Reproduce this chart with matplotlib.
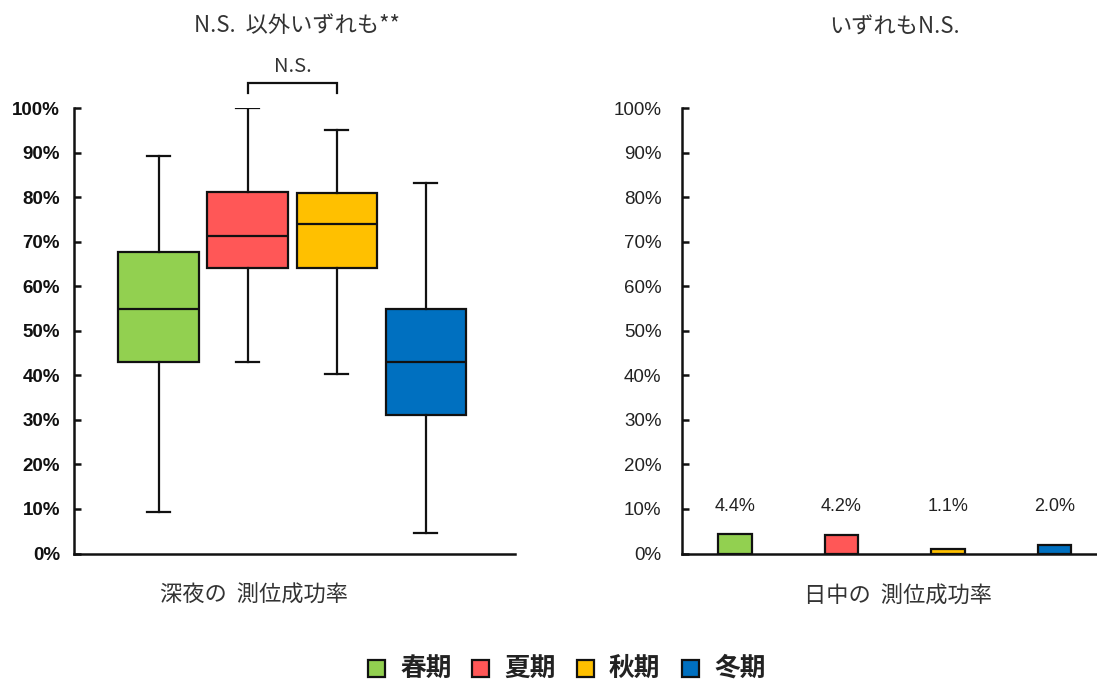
import matplotlib
matplotlib.use("Agg")
import matplotlib.pyplot as plt
from matplotlib.patches import Rectangle

# ---- data ----
seasons = ["春期", "夏期", "秋期", "冬期"]
season_colors = ["#92D050", "#FF5757", "#FFC000", "#0070C0"]

# late-night positioning success rate (%), box-plot statistics
night_whislo = [9.4, 43.0, 40.4, 4.5]
night_q1 = [43.0, 64.2, 64.2, 31.0]
night_med = [54.9, 71.3, 73.9, 43.0]
night_q3 = [67.7, 81.1, 80.9, 54.9]
night_whishi = [89.3, 100.0, 95.2, 83.3]

# daytime positioning success rate (%)
day_rates = [4.4, 4.2, 1.1, 2.0]
day_labels = ["4.4%", "4.2%", "1.1%", "2.0%"]

yticks = list(range(0, 101, 10))
ytick_labels = [f"{v}%" for v in yticks]

left_title = "N.S.  以外いずれも**"
right_title = "いずれもN.S."
left_xlabel = "深夜の  測位成功率"
right_xlabel = "日中の  測位成功率"
pair_note = "N.S."

JP = ["Noto Sans CJK JP", "DejaVu Sans"]
LAT = ["Liberation Sans", "DejaVu Sans"]

W, H = 1097, 686
fig = plt.figure(figsize=(W / 100, H / 100), dpi=100)


def fx(px):
    return px / W


def fy(py):
    return 1 - py / H


y_top, y_bot = 108.3, 553.5
ax1 = fig.add_axes([fx(74), fy(y_bot), fx(515 - 74), (y_bot - y_top) / H])
ax2 = fig.add_axes([fx(681.7), fy(y_bot), fx(W - 681.7) + 0.002, (y_bot - y_top) / H])

positions = [1, 2, 3, 4]

# ---- left: box plots ----
stats = []
for i in range(len(seasons)):
    stats.append(dict(whislo=night_whislo[i], q1=night_q1[i], med=night_med[i],
                      q3=night_q3[i], whishi=night_whishi[i], fliers=[]))
bp = ax1.bxp(stats, positions=positions, widths=0.905, patch_artist=True,
             showfliers=False,
             boxprops=dict(linewidth=1.6, edgecolor="#111111"),
             medianprops=dict(color="#111111", linewidth=1.6),
             whiskerprops=dict(color="#111111", linewidth=1.6),
             capprops=dict(color="#111111", linewidth=1.6),
             capwidths=0.26)
for patch, c in zip(bp["boxes"], season_colors):
    patch.set_facecolor(c)

# bracket between summer and autumn
ax1.plot([2, 2, 3, 3], [103.5, 105.6, 105.6, 103.5], color="#111111",
         linewidth=1.6, clip_on=False, solid_joinstyle="miter")

ax1.set_xlim(0.05, 5.0)
ax1.set_ylim(0, 100)

# ---- right: bars ----
ax2.bar(positions, day_rates, width=0.314, color=season_colors,
        edgecolor="#111111", linewidth=1.6)
for x, lab in zip(positions, day_labels):
    ax2.text(x, 10.5, lab, ha="center", va="center", fontsize=13,
             family=LAT, color="#222222")
ax2.set_xlim(0.5, 4.42)
ax2.set_ylim(0, 100)

for ax, bold, pad in ((ax1, True, 10), (ax2, False, 14.5)):
    for s in ("top", "right"):
        ax.spines[s].set_visible(False)
    for s in ("left", "bottom"):
        ax.spines[s].set_linewidth(1.8)
        ax.spines[s].set_color("#111111")
    ax.set_xticks([])
    ax.set_yticks(yticks)
    ax.set_yticklabels(ytick_labels, family=LAT, fontsize=13.5,
                       fontweight="bold" if bold else "normal",
                       color="#111111" if bold else "#222222")
    ax.tick_params(axis="y", direction="in", length=5, width=1.8,
                   color="#111111", pad=pad)
    ax.set_facecolor("none")

# ---- titles and labels ----
fig.text(fx(297), fy(25), left_title, ha="center", va="center",
         fontsize=16, family=JP, color="#333333")
fig.text(fx(895), fy(27), right_title, ha="center", va="center",
         fontsize=16, family=JP, color="#333333")
fig.text(fx(293), fy(66), pair_note, ha="center", va="center",
         fontsize=14.5, family=JP, color="#333333")
fig.text(fx(254), fy(594), left_xlabel, ha="center", va="center",
         fontsize=16, family=JP, color="#333333")
fig.text(fx(898), fy(595), right_xlabel, ha="center", va="center",
         fontsize=16, family=JP, color="#333333")

# ---- legend ----
sq_x = [368, 472, 577, 682]
txt_x = [401, 504, 609, 714]
yc = 668
sq = 17
for sx, tx, c, name in zip(sq_x, txt_x, season_colors, seasons):
    fig.patches.append(Rectangle((fx(sx), fy(yc + sq / 2)), sq / W, sq / H,
                                 transform=fig.transFigure, facecolor=c,
                                 edgecolor="#111111", linewidth=1.6))
    fig.text(fx(tx), fy(yc), name, ha="left", va="center", fontsize=18.5,
             family=JP, fontweight="bold", color="#222222")

fig.savefig("out.png", dpi=100, facecolor="white")
